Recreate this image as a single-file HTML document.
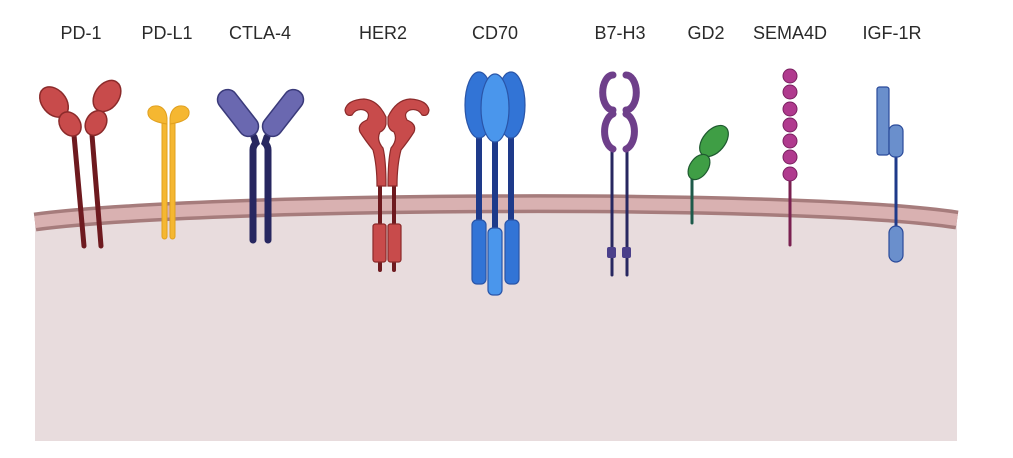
<!DOCTYPE html>
<html><head><meta charset="utf-8"><style>
html,body{margin:0;padding:0;background:#fff;width:1013px;height:458px;overflow:hidden}
text{font-family:"Liberation Sans",sans-serif;font-size:18px;fill:#2a2a2a}
</style></head><body>
<svg width="1013" height="458" viewBox="0 0 1013 458" xmlns="http://www.w3.org/2000/svg">
<path d="M35 222 C200 200 800 196 957 220 L957 441 L35 441 Z" fill="#e8dcdd"/>
<path d="M35 222 C200 200 800 196 957 220" fill="none" stroke="#a67c7c" stroke-width="19"/>
<path d="M35 222 C200 200 800 196 957 220" fill="none" stroke="#d9b1b1" stroke-width="12"/>
<text x="81" y="39" text-anchor="middle">PD-1</text>
<text x="167" y="39" text-anchor="middle">PD-L1</text>
<text x="260" y="39" text-anchor="middle">CTLA-4</text>
<text x="383" y="39" text-anchor="middle">HER2</text>
<text x="495" y="39" text-anchor="middle">CD70</text>
<text x="620" y="39" text-anchor="middle">B7-H3</text>
<text x="706" y="39" text-anchor="middle">GD2</text>
<text x="790" y="39" text-anchor="middle">SEMA4D</text>
<text x="892" y="39" text-anchor="middle">IGF-1R</text>
<g stroke-linecap="round">
<line x1="74" y1="135" x2="84" y2="246" stroke="#6e1a1f" stroke-width="5"/>
<line x1="92" y1="135" x2="101" y2="246" stroke="#6e1a1f" stroke-width="5"/>
</g>
<g fill="#c84b4b" stroke="#8b2a2a" stroke-width="1.5">
<ellipse cx="54" cy="102" rx="12" ry="17" transform="rotate(-40 54 102)"/>
<ellipse cx="70" cy="124" rx="10" ry="13" transform="rotate(-35 70 124)"/>
<ellipse cx="107" cy="96" rx="12" ry="17" transform="rotate(35 107 96)"/>
<ellipse cx="96" cy="123" rx="10" ry="13" transform="rotate(30 96 123)"/>
</g>
<g fill="#f5b731" stroke="#e0a020" stroke-width="1">
<rect x="162" y="118" width="5" height="121" rx="2.5"/>
<rect x="170" y="118" width="5" height="121" rx="2.5"/>
<path d="M167 124 Q160 123 155 121 Q147 118 148 111 Q150 105 158 106 Q166 108 167 118 Z"/>
<path d="M170 124 Q177 123 182 121 Q190 118 189 111 Q187 105 179 106 Q171 108 170 118 Z"/>
</g>
<g stroke="#272760" stroke-width="7" stroke-linecap="round" fill="none">
<path d="M253 240 L253 150 Q253 146 256 143 L254 137"/>
<path d="M268 240 L268 150 Q268 146 265 143 L267 137"/>
</g>
<g fill="#6a68b0" stroke="#3a3a7a" stroke-width="1.5">
<rect x="-10" y="-27" width="20" height="54" rx="10" transform="translate(238 113) rotate(-38)"/>
<rect x="-10" y="-27" width="20" height="54" rx="10" transform="translate(283 113) rotate(38)"/>
</g>
<g stroke="#6e1a1f" stroke-width="4" stroke-linecap="round">
<line x1="380" y1="185" x2="380" y2="270"/><line x1="394" y1="185" x2="394" y2="270"/>
</g>
<g fill="#c84b4b" stroke="#8b2a2a" stroke-width="1.2">
<path d="M386 117 Q378 100 364 99 Q347 100 345 110 Q346 117 352 115 Q356 108 364 110 Q371 113 367 120 Q357 124 360 132 Q365 140 373 150 Q377 165 377 186 L386 186 Q386 160 383 148 Q376 140 380 132 Q385 130 386 124 Z"/>
<path d="M388 117 Q396 100 410 99 Q427 100 429 110 Q428 117 422 115 Q418 108 410 110 Q403 113 407 120 Q417 124 414 132 Q409 140 401 150 Q397 165 397 186 L388 186 Q388 160 391 148 Q398 140 394 132 Q389 130 388 124 Z"/>
<rect x="373" y="224" width="13" height="38" rx="2.5"/>
<rect x="388" y="224" width="13" height="38" rx="2.5"/>
</g>
<g stroke="#1e3a8a" stroke-width="6" stroke-linecap="round">
<line x1="479" y1="135" x2="479" y2="225"/><line x1="495" y1="135" x2="495" y2="230"/><line x1="511" y1="135" x2="511" y2="225"/>
</g>
<g stroke="#2a55a8" stroke-width="1.2">
<ellipse cx="479" cy="105" rx="14" ry="33" fill="#3274d6"/>
<ellipse cx="511" cy="105" rx="14" ry="33" fill="#3274d6"/>
<ellipse cx="495" cy="108" rx="14" ry="34" fill="#4a96ec"/>
<rect x="472" y="220" width="14" height="64" rx="5" fill="#3274d6"/>
<rect x="505" y="220" width="14" height="64" rx="5" fill="#3274d6"/>
<rect x="488" y="228" width="14" height="67" rx="5" fill="#4a96ec"/>
</g>
<g stroke="#272760" stroke-width="3" stroke-linecap="round">
<line x1="612" y1="148" x2="612" y2="275"/><line x1="627" y1="148" x2="627" y2="275"/>
</g>
<g fill="#4a3f8a"><rect x="607" y="247" width="9" height="11" rx="2"/><rect x="622" y="247" width="9" height="11" rx="2"/></g>
<g fill="none" stroke="#6e3f8a" stroke-width="7" stroke-linecap="round">
<path d="M613 75 A10 17 0 0 0 613 110"/>
<path d="M613 114 A11 18 0 0 0 613 149"/>
<path d="M626 75 A10 17 0 0 1 626 110"/>
<path d="M626 114 A11 18 0 0 1 626 149"/>
</g>
<line x1="692" y1="178" x2="692" y2="223" stroke="#1e5a4a" stroke-width="3" stroke-linecap="round"/>
<g fill="#3f9e45" stroke="#1f5a30" stroke-width="1.2">
<ellipse cx="714" cy="141" rx="11" ry="18" transform="rotate(40 714 141)"/>
<ellipse cx="699" cy="167" rx="9" ry="14" transform="rotate(35 699 167)"/>
</g>
<line x1="790" y1="178" x2="790" y2="245" stroke="#7a2050" stroke-width="3" stroke-linecap="round"/>
<g fill="#b03a8e" stroke="#7a2060" stroke-width="1">
<circle cx="790" cy="76" r="7"/><circle cx="790" cy="92" r="7"/><circle cx="790" cy="109" r="7"/>
<circle cx="790" cy="125" r="7"/><circle cx="790" cy="141" r="7"/><circle cx="790" cy="157" r="7"/><circle cx="790" cy="174" r="7"/>
</g>
<line x1="896" y1="150" x2="896" y2="230" stroke="#1e3a8a" stroke-width="3"/>
<g fill="#6a8fcc" stroke="#2a4a9a" stroke-width="1.2">
<rect x="877" y="87" width="12" height="68" rx="2.5"/>
<rect x="889" y="125" width="14" height="32" rx="6"/>
<rect x="889" y="226" width="14" height="36" rx="7"/>
</g>
</svg>
</body></html>
